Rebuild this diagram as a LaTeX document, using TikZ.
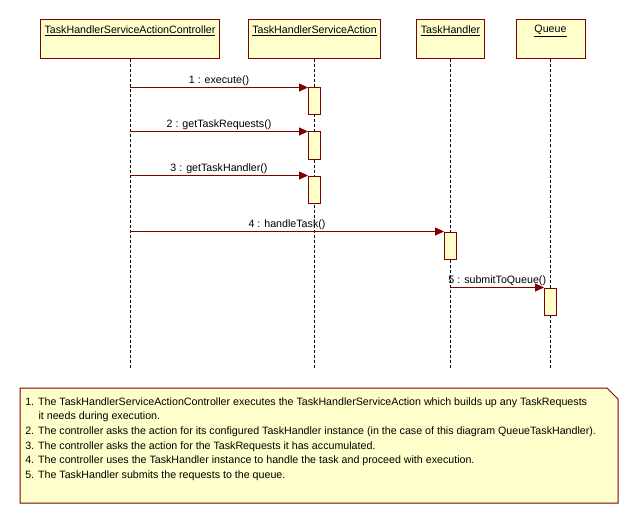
\documentclass[tikz,border=0pt]{standalone}
\usepackage{fontspec}
\setmainfont{Liberation Sans}
\usetikzlibrary{arrows.meta,positioning}
\definecolor{umlred}{RGB}{128,0,0}
\definecolor{umlfill}{RGB}{255,255,204}
\newcommand{\umlfont}{\fontsize{8}{11}\selectfont}
\tikzset{
  obj/.style={draw=umlred,fill=umlfill,line width=.75pt,minimum height=29.25pt,inner sep=0pt},
  objname/.style={font=\umlfont,inner sep=0pt},
  lifeline/.style={dash pattern=on 2.25pt off 1.5pt,line width=.6pt},
  act/.style={draw=umlred,fill=umlfill,line width=.75pt,minimum width=9pt,minimum height=20.25pt,inner sep=0pt},
  msg/.style={draw=umlred,line width=.75pt,-{Triangle[length=6.75pt,width=6pt]}},
  msglabel/.style={font=\umlfont,midway,above,inner sep=1pt}
}
\begin{document}
\begin{tikzpicture}[x=.75pt,y=-.75pt]
  \useasboundingbox[fill=white](0,0)rectangle(638,524);
  % objects
  \node[obj,minimum width=134.25pt](ctrl)at(130,39.5){};
  \node[objname]at(130,31){\underline{TaskHandlerServiceActionController}};
  \node[obj,minimum width=99pt](action)at(314.5,39.5){};
  \node[objname]at(314.5,31){\underline{TaskHandlerServiceAction}};
  \node[obj,minimum width=51pt](handler)at(450.5,39.5){};
  \node[objname]at(450.5,31){\underline{TaskHandler}};
  \node[obj,minimum width=51.75pt](queue)at(550.5,39.5){};
  \node[objname]at(550.5,31){\underline{Queue}};
  % lifelines
  \foreach \o in {ctrl,action,handler,queue}
    \draw[lifeline](\o.south)--(\o.south|-0,368);
  % activations
  \node[act](a1)at(action.south|-0,101.5){};
  \node[act](a2)at(action.south|-0,145.5){};
  \node[act](a3)at(action.south|-0,189.5){};
  \node[act](h1)at(handler.south|-0,245.5){};
  \node[act](q1)at(queue.south|-0,301.5){};
  % messages
  \draw[msg](ctrl.south|-a1.north)--node[msglabel]{1 : execute()}(a1.north west);
  \draw[msg](ctrl.south|-a2.north)--node[msglabel]{2 : getTaskRequests()}(a2.north west);
  \draw[msg](ctrl.south|-a3.north)--node[msglabel]{3 : getTaskHandler()}(a3.north west);
  \draw[msg](ctrl.south|-h1.north)--node[msglabel]{4 : handleTask()}(h1.north west);
  \draw[msg](handler.south|-q1.north)--node[msglabel]{5 : submitToQueue()}(q1.north west);
  % note
  \draw[draw=umlred,fill=umlfill,line width=.75pt](20,388)--(607,388)--(618,399)--(618,503)--(20,503)--cycle;
  \node[font=\umlfont,align=left,anchor=north west,inner sep=0pt](notes)at(25,397){%
    1. The TaskHandlerServiceActionController executes the TaskHandlerServiceAction which builds up any TaskRequests\\
    \hspace*{10pt}it needs during execution.\\
    2. The controller asks the action for its configured TaskHandler instance (in the case of this diagram QueueTaskHandler).\\
    3. The controller asks the action for the TaskRequests it has accumulated.\\
    4. The controller uses the TaskHandler instance to handle the task and proceed with execution.\\
    5. The TaskHandler submits the requests to the queue.};
\end{tikzpicture}
\end{document}
